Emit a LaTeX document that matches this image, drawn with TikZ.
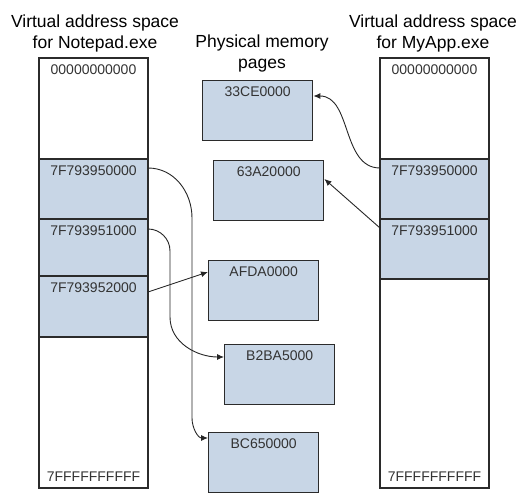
\documentclass[tikz,border=0pt]{standalone}
\usepackage{fontspec}
\setmainfont{Liberation Sans}
\usepackage{tikz}
\usetikzlibrary{arrows.meta,positioning}
\definecolor{pageblue}{HTML}{C8D6E6}
\definecolor{edgegray}{HTML}{2B2B2B}
\tikzset{
  memcell/.style={ draw=edgegray, line width=1.4pt, minimum width=109pt, inner sep=0pt, outer sep=0pt, anchor=north west }
}
\tikzset{
  memfree/.style={ memcell, fill=white }
}
\tikzset{
  memused/.style={ memcell, fill=pageblue }
}
\tikzset{
  physpage/.style={ draw=edgegray, line width=1.4pt, fill=pageblue, minimum width=110pt, minimum height=60pt, inner sep=0pt, anchor=north west }
}
\tikzset{
  addr/.style={ font=\fontsize{14}{16}\selectfont, text=black!80, inner sep=6.5pt }
}
\tikzset{
  toptext/.style={ label={[addr, anchor=north]north:#1} },
  bottext/.style={ label={[addr, anchor=south]south:#1} }
}
\tikzset{
  heading/.style={ font=\fontsize{17.5}{21}\selectfont, align=center }
}
\tikzset{
  maplink/.style={ draw=black!85, line width=0.9pt, -{Latex[length=7pt,width=6pt]} }
}

\begin{document}
\begin{tikzpicture}[x=1pt, y=1pt]
      \useasboundingbox (0,0) rectangle (531,500);

      \node[heading] (tNote) at (95,467) {Virtual address space\\for Notepad.exe};
      \node[heading] (tPhys) at (262,447) {Physical memory\\pages};
      \node[heading] (tApp) at (433,467) {Virtual address space\\for MyApp.exe};

      % Notepad.exe
      \node[memfree, minimum height=101pt, toptext=00000000000] (nL0) at (39,442) {};
      \node[memused, minimum height=60pt, toptext=7F793950000, below=0pt of nL0] (nL1) {};
      \node[memused, minimum height=57pt, toptext=7F793951000, below=0pt of nL1] (nL2) {};
      \node[memused, minimum height=61pt, toptext=7F793952000, below=0pt of nL2] (nL3) {};
      \node[memfree, minimum height=151pt, bottext=7FFFFFFFFFF, below=0pt of nL3] (nL4) {};

      % MyApp.exe
      \node[memfree, minimum height=101pt, toptext=00000000000] (nR0) at (380,442) {};
      \node[memused, minimum height=60pt, toptext=7F793950000, below=0pt of nR0] (nR1) {};
      \node[memused, minimum height=60pt, toptext=7F793951000, below=0pt of nR1] (nR2) {};
      \node[memfree, minimum height=209pt, bottext=7FFFFFFFFFF, below=0pt of nR2] (nR3) {};

      % physical pages
      \node[physpage, toptext=33CE0000] (p33CE) at (202,420) {};
      \node[physpage, toptext=63A20000] (p63A2) at (213,340) {};
      \node[physpage, toptext=AFDA0000] (pAFDA) at (208,240) {};
      \node[physpage, toptext=B2BA5000] (pB2BA) at (224,156) {};
      \node[physpage, toptext=BC650000] (pBC65) at (208,68) {};

      \draw[maplink] ([yshift=-9pt]nR1.north west) to[out=180, in=0] ([yshift=-16pt]p33CE.north east);
      \draw[maplink] ([yshift=-9pt]nR2.north west) -- ([yshift=-19pt]p63A2.north east);

      \draw[maplink] ([yshift=-9pt]nL1.north east) to[out=0, in=90] ++(44,-50) -- ++(0,-200)
            to[out=-90, in=180] ([yshift=-6pt]pBC65.north west);
      \draw[maplink] ([yshift=-10pt]nL2.north east) to[out=0, in=90] ++(22,-22) -- ++(0,-66)
            to[out=-90, in=180] ([yshift=-13pt]pB2BA.north west);
      \draw[maplink] ([yshift=-16pt]nL3.north east) -- ([yshift=-12pt]pAFDA.north west);
\end{tikzpicture}
\end{document}
